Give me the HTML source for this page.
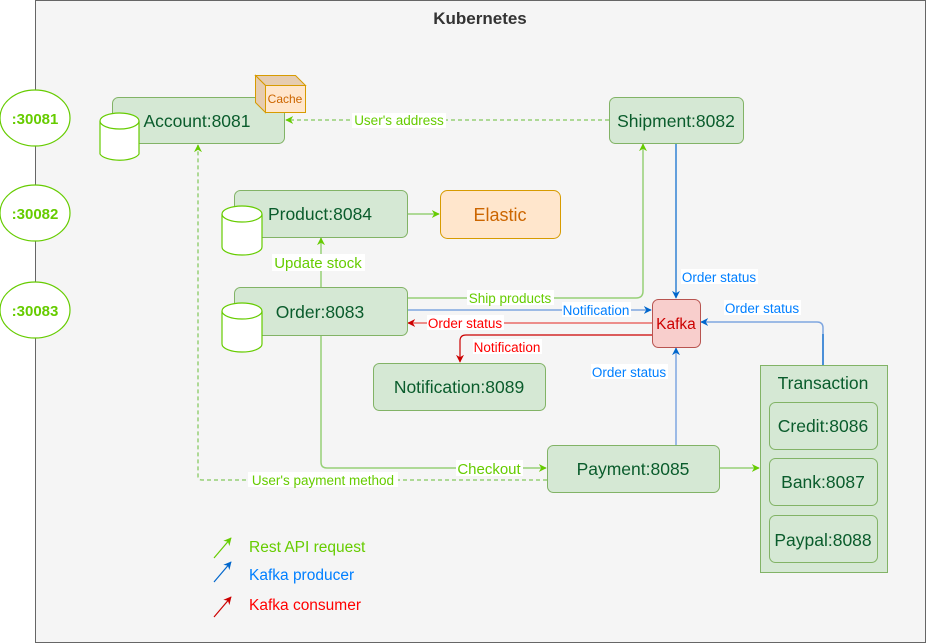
<!DOCTYPE html>
<html><head><meta charset="utf-8"><style>
html,body{margin:0;padding:0;background:#fff;}
svg{display:block;font-family:"Liberation Sans",Arial,sans-serif;}
</style></head><body>
<svg width="927" height="644" viewBox="0 0 927 644" xmlns="http://www.w3.org/2000/svg">
<defs>
<marker id="ag" viewBox="0 0 10 10" refX="9" refY="5" markerWidth="8" markerHeight="8" orient="auto-start-reverse" markerUnits="userSpaceOnUse"><path d="M0,0 L10,5 L0,10 L3,5 z" fill="#66cc00"/></marker>
<marker id="ab" viewBox="0 0 10 10" refX="9" refY="5" markerWidth="8" markerHeight="8" orient="auto-start-reverse" markerUnits="userSpaceOnUse"><path d="M0,0 L10,5 L0,10 L3,5 z" fill="#0066cc"/></marker>
<marker id="ar" viewBox="0 0 10 10" refX="9" refY="5" markerWidth="8" markerHeight="8" orient="auto-start-reverse" markerUnits="userSpaceOnUse"><path d="M0,0 L10,5 L0,10 L3,5 z" fill="#cc0000"/></marker>
</defs>
<rect x="35.5" y="0.5" width="890" height="642" fill="#f5f5f5" stroke="#666"/>
<text x="480" y="24" text-anchor="middle" font-size="17" font-weight="bold" fill="#333">Kubernetes</text>

<g fill="#fff" stroke="#66cc00" stroke-width="1.2">
<ellipse cx="35" cy="118" rx="35" ry="28"/>
<ellipse cx="35" cy="213" rx="35" ry="28"/>
<ellipse cx="35" cy="310" rx="35" ry="28"/>
</g>
<g font-size="15" font-weight="bold" fill="#66cc00" text-anchor="middle">
<text x="35" y="124">:30081</text><text x="35" y="219">:30082</text><text x="35" y="316">:30083</text>
</g>

<g fill="none" stroke-width="1.5">
<path d="M609,120 L286,120" stroke="#97d077" stroke-dasharray="4,3" marker-end="url(#ag)"/>
<path d="M547,480 L202,480 Q198,480 198,476 L198,145" stroke="#97d077" stroke-dasharray="4,3" marker-end="url(#ag)"/>
<path d="M407,214 L439,214" stroke="#97d077" marker-end="url(#ag)"/>
<path d="M321,287 L321,238" stroke="#97d077" marker-end="url(#ag)"/>
<path d="M407,298 L636,298 Q643,298 643,291 L643,144" stroke="#97d077" marker-end="url(#ag)"/>
<path d="M407,310 L651,310" stroke="#7ea6e0" marker-end="url(#ab)"/>
<path d="M652,323 L408,323" stroke="#ea6b66" marker-end="url(#ar)"/>
<path d="M652,335 L466,335 Q460,335 460,341 L460,362" stroke="#cc0000" stroke-width="1.2" marker-end="url(#ar)"/>
<path d="M676,143 L676,298" stroke="#0066cc" stroke-width="1.2" marker-end="url(#ab)"/>
<path d="M823,365 L823,328 Q823,322 817,322 L701,322" stroke="#7ea6e0" marker-end="url(#ab)"/>
<path d="M823,365 L823,334" stroke="#0066cc" stroke-width="1.2"/>
<path d="M676,445 L676,348" stroke="#7ea6e0" marker-end="url(#ab)"/>
<path d="M321,335 L321,462 Q321,468 327,468 L546,468" stroke="#97d077" marker-end="url(#ag)"/>
<path d="M719,468 L759,468" stroke="#97d077" marker-end="url(#ag)"/>
</g>

<g font-size="13.5">
<rect x="352" y="113" width="94" height="15" fill="#fff"/><text x="399" y="125" text-anchor="middle" fill="#66cc00">User's address</text>
<rect x="248" y="472" width="150" height="15" fill="#fff"/><text x="323" y="485" text-anchor="middle" fill="#66cc00">User's payment method</text>
<rect x="467" y="290" width="87" height="15" fill="#fff"/><text x="510" y="303" text-anchor="middle" fill="#66cc00">Ship products</text>
<rect x="562" y="302" width="69" height="15" fill="#fff"/><text x="596" y="315" text-anchor="middle" fill="#007fff">Notification</text>
<rect x="427" y="315" width="77" height="15" fill="#fff"/><text x="465" y="328" text-anchor="middle" fill="#ff0000">Order status</text>
<rect x="473" y="339" width="69" height="15" fill="#fff"/><text x="507" y="352" text-anchor="middle" fill="#ff0000">Notification</text>
<rect x="681" y="269" width="77" height="15" fill="#fff"/><text x="719" y="282" text-anchor="middle" fill="#007fff">Order status</text>
<rect x="724" y="300" width="77" height="15" fill="#fff"/><text x="762" y="313" text-anchor="middle" fill="#007fff">Order status</text>
<rect x="591" y="364" width="77" height="15" fill="#fff"/><text x="629" y="377" text-anchor="middle" fill="#007fff">Order status</text>
</g>
<g font-size="15">
<rect x="272" y="254" width="93" height="17" fill="#fff"/><text x="318" y="268" text-anchor="middle" fill="#66cc00">Update stock</text>
<rect x="456" y="460" width="67" height="16" fill="#fff"/><text x="489" y="474" text-anchor="middle" fill="#66cc00">Checkout</text>
</g>

<g fill="#d5e8d4" stroke="#82b366" stroke-width="1">
<rect x="112.5" y="97.5" width="172" height="46" rx="6"/>
<rect x="609.5" y="97.5" width="134" height="46" rx="6"/>
<rect x="234.5" y="190.5" width="173" height="47" rx="6"/>
<rect x="234.5" y="287.5" width="173" height="48" rx="6"/>
<rect x="373.5" y="363.5" width="172" height="47" rx="6"/>
<rect x="547.5" y="445.5" width="172" height="47" rx="6"/>
<rect x="760.5" y="365.5" width="127" height="207"/>
<rect x="769.5" y="402.5" width="108" height="47" rx="6"/>
<rect x="769.5" y="458.5" width="108" height="47" rx="6"/>
<rect x="769.5" y="515.5" width="108" height="47" rx="6"/>
</g>
<rect x="440.5" y="190.5" width="120" height="48" rx="7" fill="#ffe6cc" stroke="#d79b00"/>
<rect x="652.5" y="299.5" width="48" height="48" rx="6" fill="#f8cecc" stroke="#b85450"/>

<g fill="#fff" stroke="#66cc00" stroke-width="1.2">
<path d="M100,121 L100,154 A20,8 0 0 0 139,154 L139,121"/><ellipse cx="119.5" cy="121" rx="19.5" ry="8"/>
<path d="M222,214 L222,247 A20,8 0 0 0 262,247 L262,214"/><ellipse cx="242" cy="214" rx="20" ry="8"/>
<path d="M222,311 L222,344 A20,8 0 0 0 262,344 L262,311"/><ellipse cx="242" cy="311" rx="20" ry="8"/>
</g>

<g stroke="#d79b00" stroke-width="1">
<path d="M255.5,75.5 L295.5,75.5 L305.5,85.5 L265.5,85.5 Z" fill="#e6ccb0"/>
<path d="M255.5,75.5 L265.5,85.5 L265.5,112.5 L255.5,102.5 Z" fill="#e6ccb0"/>
<rect x="265.5" y="85.5" width="40" height="27" fill="#ffe6cc"/>
</g>
<text x="285" y="103" text-anchor="middle" font-size="12" fill="#cc6600">Cache</text>

<g font-size="17.5" fill="#0a5c2c" text-anchor="middle">
<text x="197" y="127">Account:8081</text>
<text x="676" y="127">Shipment:8082</text>
<text x="320" y="220">Product:8084</text>
<text x="320" y="318">Order:8083</text>
<text x="459" y="393">Notification:8089</text>
<text x="633" y="475">Payment:8085</text>
<text x="823" y="389">Transaction</text>
<text x="823" y="432">Credit:8086</text>
<text x="823" y="488">Bank:8087</text>
<text x="823" y="546">Paypal:8088</text>
</g>
<text x="500" y="221" text-anchor="middle" font-size="18" fill="#cc6600">Elastic</text>
<text x="676" y="329" text-anchor="middle" font-size="15.5" fill="#cc0000">Kafka</text>

<g fill="none" stroke-width="1.2">
<path d="M214,558 L231,538" stroke="#66cc00" marker-end="url(#ag)"/>
<path d="M214,582 L231,562" stroke="#0066cc" marker-end="url(#ab)"/>
<path d="M214,617 L231,597" stroke="#cc0000" marker-end="url(#ar)"/>
</g>
<g font-size="15.5">
<text x="249" y="552" fill="#66cc00">Rest API request</text>
<text x="249" y="580" fill="#007fff">Kafka producer</text>
<text x="249" y="610" fill="#ff0000">Kafka consumer</text>
</g>
</svg>
</body></html>
